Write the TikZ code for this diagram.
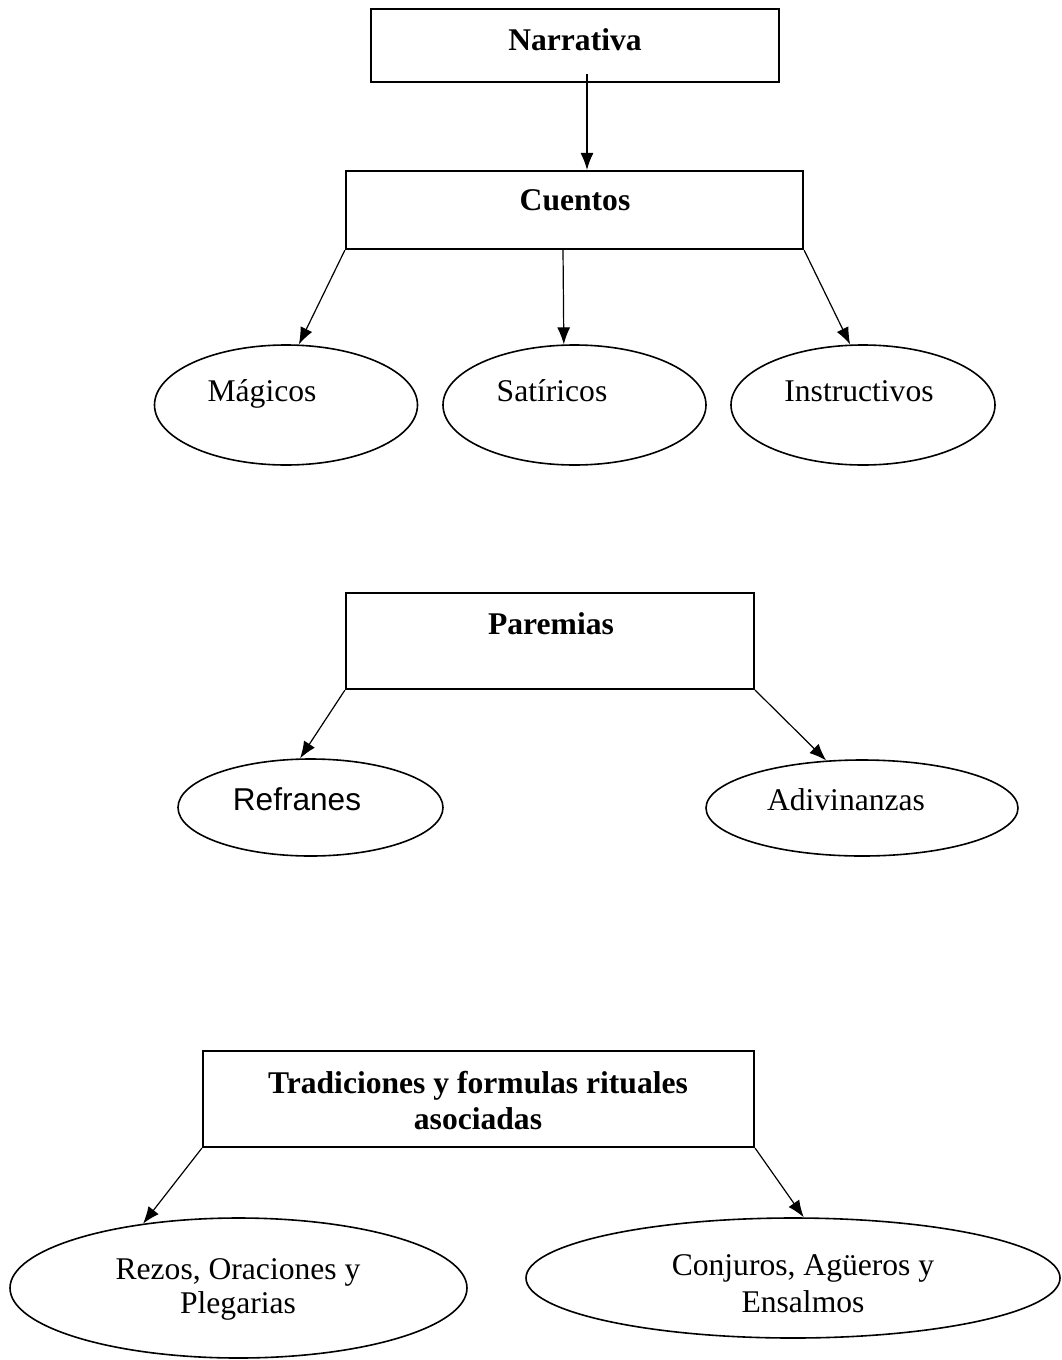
\documentclass[tikz,border=0pt]{standalone}
\usepackage{fontspec}
\setmainfont{Liberation Serif}
\newfontfamily\arialf{Liberation Sans}
\usetikzlibrary{shapes.geometric,arrows.meta}
\tikzset{
  boxnode/.style={draw, line width=1.1pt, rectangle, inner sep=0pt},
  ellnode/.style={draw, line width=0.8pt, ellipse, inner sep=0pt},
  lbl/.style={anchor=base, inner sep=0pt, font=\fontsize{15.8}{18}\selectfont, align=center},
  blbl/.style={lbl, font=\fontsize{15.8}{18}\selectfont\bfseries},
  conn/.style={line width=0.6pt, -{Latex[length=8.5pt,width=6.5pt]}}
}
\begin{document}
\begin{tikzpicture}[x=0.5pt,y=-0.5pt]
\useasboundingbox (0,0) rectangle (1061,1360);
% boxes
\node[boxnode, minimum width=204pt, minimum height=36.5pt] (narr) at (575,45.5) {};
\node[boxnode, minimum width=228.5pt, minimum height=39pt] (cuent) at (574.5,210) {};
\node[boxnode, minimum width=204pt, minimum height=48pt] (parem) at (550,641) {};
\node[boxnode, minimum width=275.5pt, minimum height=48pt] (trad) at (478.5,1099) {};
% box texts
\node[blbl] (narrT) at (575,50.5) {Narrativa};
\node[blbl] (cuentT) at (575,210.5) {Cuentos};
\node[blbl] (paremT) at (551,634) {Paremias};
\node[blbl] (tradT) at (478,1129) {Tradiciones y formulas rituales\\asociadas};
% ellipses
\node[ellnode, minimum width=131.5pt, minimum height=60pt] (mag) at (286,405) {};
\node[ellnode, minimum width=131.5pt, minimum height=60pt] (sat) at (574.5,405) {};
\node[ellnode, minimum width=132pt, minimum height=60pt] (ins) at (863,405) {};
\node[ellnode, minimum width=132.5pt, minimum height=48.5pt] (ref) at (310.5,807.5) {};
\node[ellnode, minimum width=156pt, minimum height=48pt] (adi) at (862,808) {};
\node[ellnode, minimum width=228.5pt, minimum height=70pt] (rez) at (238.5,1288) {};
\node[ellnode, minimum width=267pt, minimum height=60pt] (con) at (793,1278) {};
% ellipse texts
\node[lbl] (magT) at (262,401) {Mágicos};
\node[lbl] (satT) at (552,401) {Satíricos};
\node[lbl] (insT) at (859,401) {Instructivos};
\node[lbl, font=\fontsize{15.8}{18}\selectfont\arialf] (refT) at (297,810) {Refranes};
\node[lbl] (adiT) at (846,810) {Adivinanzas};
\node[lbl, font=\fontsize{15.8}{17}\selectfont] (rezT) at (238,1313) {Rezos, Oraciones y\\Plegarias};
\node[lbl, font=\fontsize{15.8}{18.5}\selectfont] (conT) at (803,1312) {Conjuros, Agüeros y\\Ensalmos};
% connector start points
\coordinate (narrS) at (587,74);
\coordinate (cuentS) at (563,249);
% connectors
\draw[conn] (narrS) -- (cuent.north -| narrS);
\draw[conn] (cuent.south west) -- (mag.78);
\draw[conn] (cuentS) -- (sat.100.7);
\draw[conn] (cuent.south east) -- (ins.102.9);
\draw[conn] (parem.south west) -- (ref.102.2);
\draw[conn] (parem.south east) -- (adi.127.6);
\draw[conn] (trad.south west) -- (rez.146.9);
\draw[conn] (trad.south east) -- (con.80.5);
\end{tikzpicture}
\end{document}
